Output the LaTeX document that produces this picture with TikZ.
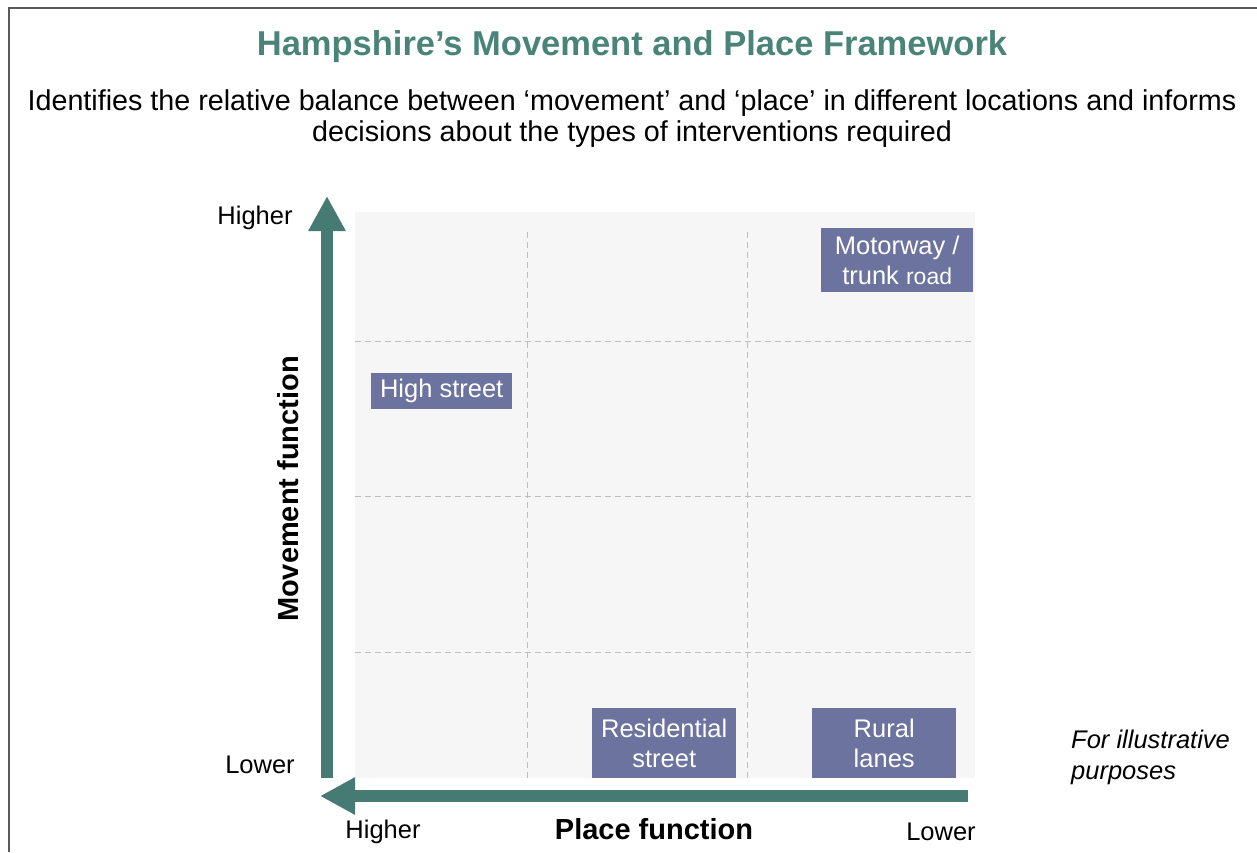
\documentclass[tikz,border=0pt]{standalone}
\usepackage{fontspec}
\setmainfont{Liberation Sans}
\usetikzlibrary{arrows.meta}
\definecolor{teal1}{HTML}{467B73}
\definecolor{titlec}{HTML}{4A8479}
\definecolor{boxc}{HTML}{6B739E}
\definecolor{framec}{HTML}{595959}
\definecolor{bgc}{HTML}{F6F6F6}
\definecolor{dashc}{HTML}{BDBDBD}
\tikzset{
  lbl/.style={font=\fontsize{25.5}{28}\selectfont, text=black, inner sep=0pt},
  axlbl/.style={font=\bfseries\fontsize{29}{32}\selectfont, text=black, inner sep=0pt},
  cat/.style={fill=boxc, text=white, font=\fontsize{25.5}{30}\selectfont, align=center, inner sep=0pt, anchor=north west},
  grid/.style={draw=dashc, dashed, dash pattern=on 6pt off 4pt, line width=1pt},
  bigarrow/.style={draw=teal1, line width=12pt, -{Triangle[width=35pt,length=35pt]}}
}
\begin{document}
\begin{tikzpicture}[x=1pt,y=-1pt]
\useasboundingbox (0,0) rectangle (1257,852);
% frame
\draw[framec, line width=2pt] (9,852) -- (9,8) -- (1257,8);
% title
\node[font=\bfseries\fontsize{34.5}{38}\selectfont, text=titlec, inner sep=0pt] (title) at (632,47) {Hampshire’s Movement and Place Framework};
\node[font=\fontsize{28.7}{31}\selectfont, align=center, inner sep=0pt] (sub) at (632,119) {Identifies the relative balance between ‘movement’ and ‘place’ in different locations and informs\\decisions about the types of interventions required};
% plot background
\fill[bgc] (355,212) rectangle (975,778);
% grid
\draw[grid] (527,232) -- (527,778);
\draw[grid] (747,232) -- (747,778);
\draw[grid] (355,341) -- (975,341);
\draw[grid] (355,496) -- (975,496);
\draw[grid] (355,652) -- (975,652);
% arrows
\coordinate (vb) at (327,778);
\coordinate (vt) at (327,196);
\coordinate (hr) at (968,796);
\coordinate (hl) at (320,796);
\draw[bigarrow] (vb) -- (vt);
\draw[bigarrow] (hr) -- (hl);
% axis labels
\node[lbl] (yh) at (255,218) {Higher};
\node[lbl] (yl) at (260,765) {Lower};
\node[axlbl, rotate=90] (ylab) at (288,489) {Movement function};
\node[lbl] (xh) at (383,832) {Higher};
\node[axlbl] (xlab) at (654,829) {Place function};
\node[lbl] (xl) at (941,832) {Lower};
% categories
\node[cat, minimum width=152pt, minimum height=64pt] (mw) at (821,228) {Motorway /\\trunk {\fontsize{23}{30}\selectfont road}};
\node[cat, minimum width=141pt, minimum height=36pt] (hs) at (371,373) {High street};
\node[cat, minimum width=144pt, minimum height=70pt] (rs) at (592,708) {Residential\\street};
\node[cat, minimum width=144pt, minimum height=70pt] (rl) at (812,708) {Rural\\lanes};
% note
\node[font=\itshape\fontsize{25.5}{31}\selectfont, align=left, anchor=west, inner sep=0pt] (note) at (1071,757) {For illustrative\\purposes};
\end{tikzpicture}
\end{document}
